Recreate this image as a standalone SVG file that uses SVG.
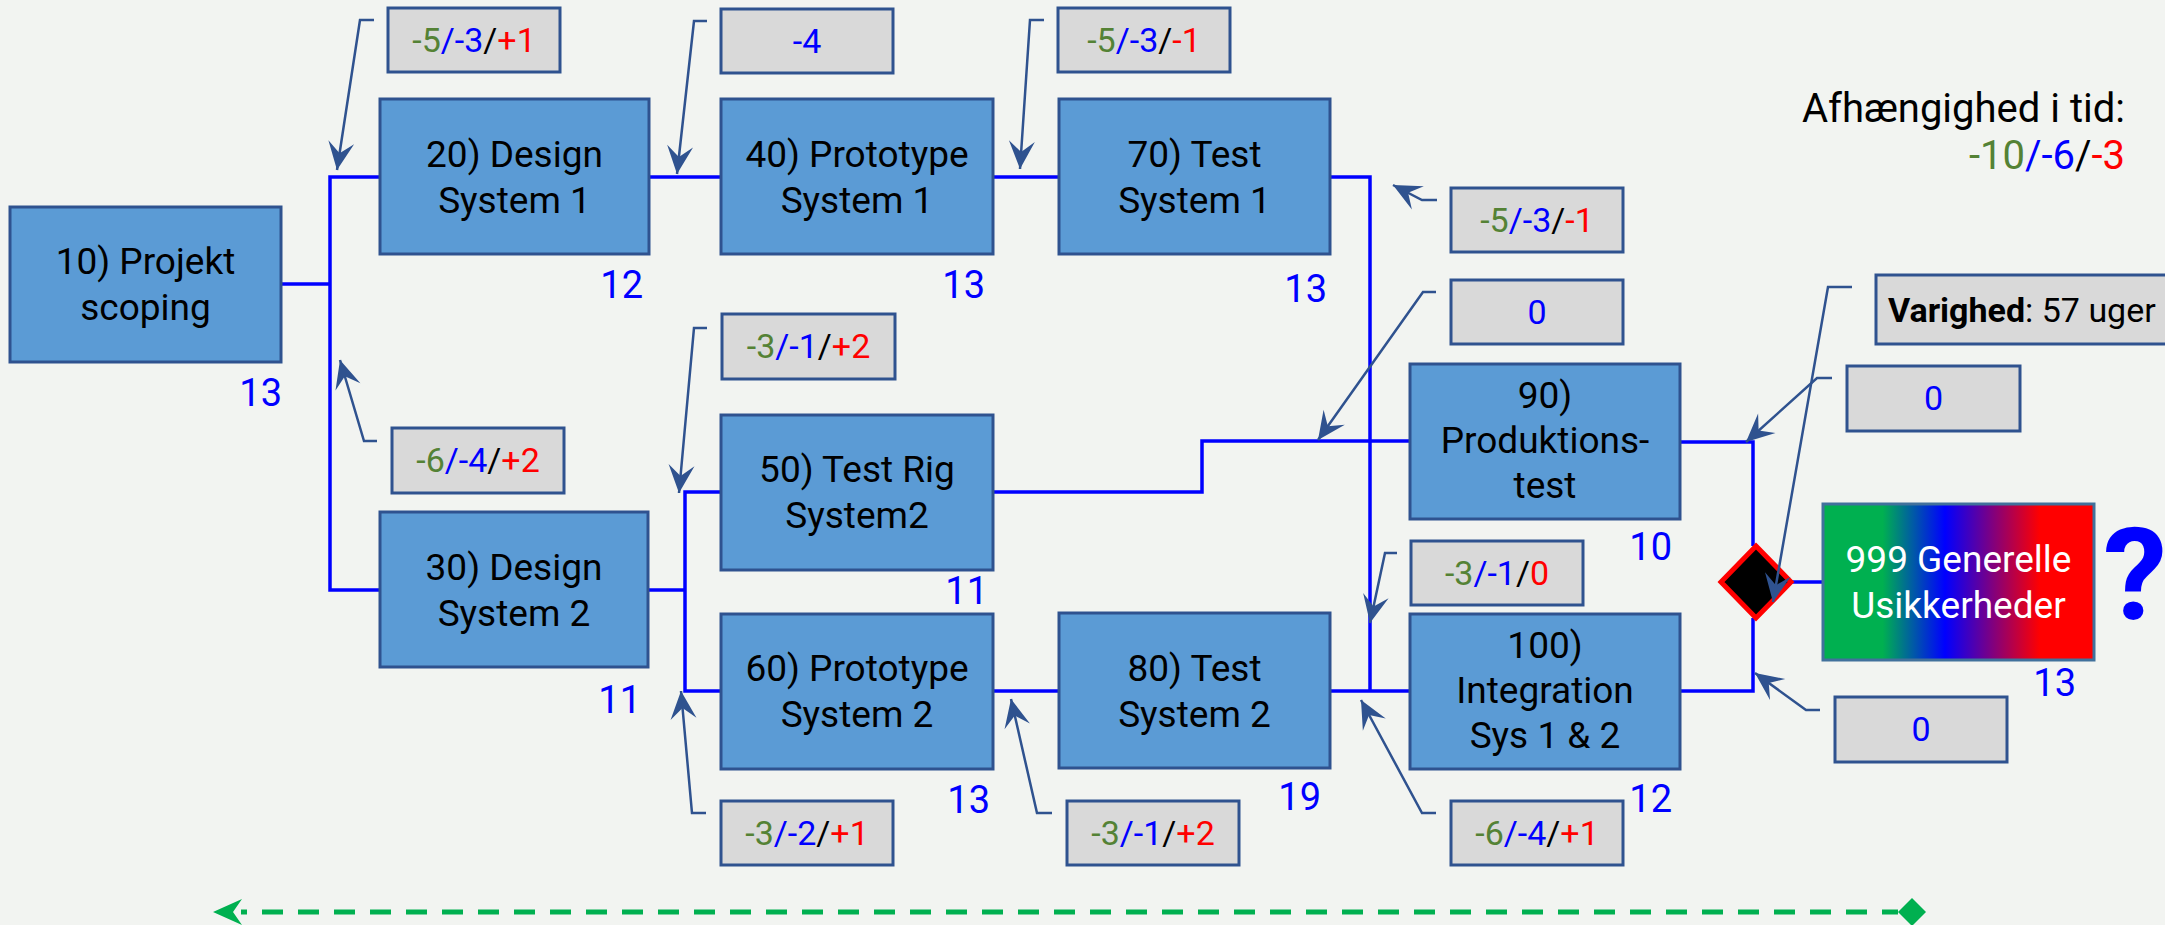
<svg xmlns="http://www.w3.org/2000/svg" width="2165" height="925" viewBox="0 0 2165 925">
<style>
text{font-family:Roboto,"Liberation Sans",sans-serif}
.node{fill:#5B9BD5;stroke:#2F528F;stroke-width:3}
.nt{font-size:37px;fill:#000;text-anchor:middle}
.num{font-size:38px;fill:#0000FF;text-anchor:end}
.cb{fill:#D9D9D9;stroke:#2F528F;stroke-width:3}
.ct{font-size:34px;text-anchor:middle}
.g{fill:#548235}.b{fill:#0000FF}.k{fill:#000}.r{fill:#FF0000}
.conn{fill:none;stroke:#0000FF;stroke-width:3.5}
.lead{fill:none;stroke:#2F528F;stroke-width:2.5;marker-end:url(#stealth)}
</style>
<defs>
<marker id="stealth" markerUnits="userSpaceOnUse" viewBox="-30 -15 32 30" markerWidth="32" markerHeight="30" refX="0" refY="0" orient="auto">
<path d="M0,0 L-28,-13 L-17,0 L-28,13 Z" fill="#2F528F"/>
</marker>
<linearGradient id="grad" x1="0" y1="0" x2="1" y2="0">
<stop offset="0" stop-color="#00B050"/>
<stop offset="0.22" stop-color="#00B050"/>
<stop offset="0.45" stop-color="#0000FF"/>
<stop offset="0.8" stop-color="#FF0000"/>
<stop offset="1" stop-color="#FF0000"/>
</linearGradient>
</defs>
<rect width="2165" height="925" fill="#F2F4F1"/>

<g id="connectors">
<path class="conn" d="M282,284 H330"/>
<path class="conn" d="M380,177 H330 V590 H380"/>
<path class="conn" d="M649,177 H721"/>
<path class="conn" d="M993,177 H1059"/>
<path class="conn" d="M1330,177 H1370 V691"/>
<path class="conn" d="M1330,691 H1410"/>
<path class="conn" d="M648,590 H685"/>
<path class="conn" d="M721,492 H685 V691 H721"/>
<path class="conn" d="M993,691 H1059"/>
<path class="conn" d="M993,492 H1202 V441 H1410"/>
<path class="conn" d="M1680,442 H1753 V546"/>
<path class="conn" d="M1680,691 H1753 V618"/>
<path class="conn" d="M1791,582 H1823"/>
</g>

<g id="n10"><rect class="node" x="10" y="207" width="271" height="155"/>
<text class="nt" x="145.5" y="274">10) Projekt</text><text class="nt" x="145.5" y="320">scoping</text>
<text class="num" x="282" y="406">13</text></g>
<g id="n20"><rect class="node" x="380" y="99" width="269" height="155"/>
<text class="nt" x="514.5" y="167">20) Design</text><text class="nt" x="514.5" y="213">System 1</text>
<text class="num" x="643" y="298">12</text></g>
<g id="n40"><rect class="node" x="721" y="99" width="272" height="155"/>
<text class="nt" x="857" y="167">40) Prototype</text><text class="nt" x="857" y="213">System 1</text>
<text class="num" x="985" y="298">13</text></g>
<g id="n70"><rect class="node" x="1059" y="99" width="271" height="155"/>
<text class="nt" x="1194.5" y="167">70) Test</text><text class="nt" x="1194.5" y="213">System 1</text>
<text class="num" x="1327" y="302">13</text></g>
<g id="n30"><rect class="node" x="380" y="512" width="268" height="155"/>
<text class="nt" x="514" y="580">30) Design</text><text class="nt" x="514" y="626">System 2</text>
<text class="num" x="641" y="713">11</text></g>
<g id="n50"><rect class="node" x="721" y="415" width="272" height="155"/>
<text class="nt" x="857" y="482">50) Test Rig</text><text class="nt" x="857" y="528">System2</text>
<text class="num" x="988" y="604">11</text></g>
<g id="n60"><rect class="node" x="721" y="614" width="272" height="155"/>
<text class="nt" x="857" y="681">60) Prototype</text><text class="nt" x="857" y="727">System 2</text>
<text class="num" x="990" y="813">13</text></g>
<g id="n80"><rect class="node" x="1059" y="613" width="271" height="155"/>
<text class="nt" x="1194.5" y="681">80) Test</text><text class="nt" x="1194.5" y="727">System 2</text>
<text class="num" x="1321" y="810">19</text></g>
<g id="n90"><rect class="node" x="1410" y="364" width="270" height="155"/>
<text class="nt" x="1545" y="408">90)</text><text class="nt" x="1545" y="453">Produktions-</text><text class="nt" x="1545" y="498">test</text>
<text class="num" x="1672" y="560">10</text></g>
<g id="n100"><rect class="node" x="1410" y="614" width="270" height="155"/>
<text class="nt" x="1545" y="658">100)</text><text class="nt" x="1545" y="703">Integration</text><text class="nt" x="1545" y="748">Sys 1 &amp; 2</text>
<text class="num" x="1672" y="812">12</text></g>
<g id="n999"><rect x="1823" y="504" width="271" height="156" fill="url(#grad)" stroke="#41719C" stroke-width="3"/>
<text class="nt" x="1958.5" y="572" style="fill:#FFFFFF">999 Generelle</text><text class="nt" x="1958.5" y="618" style="fill:#FFFFFF">Usikkerheder</text>
<text class="num" x="2076" y="696">13</text></g>
<g id="decision"><polygon points="1756,546 1791,582 1756,618 1721,582" fill="#000" stroke="#FF0000" stroke-width="5"/></g>
<g id="question"><text x="2135" y="619" font-size="128" font-weight="bold" fill="#0000FF" text-anchor="middle">?</text></g>

<g id="legend">
<text x="2125" y="122" font-size="40" text-anchor="end" fill="#000">Afhængighed i tid:</text>
<text x="2125" y="169" font-size="40" text-anchor="end"><tspan class="g">-10</tspan><tspan class="b">/-6</tspan><tspan class="k">/</tspan><tspan class="r">-3</tspan></text>
</g>

<g id="callouts">
<g id="c1"><rect class="cb" x="388" y="8" width="172" height="64"/><text class="ct" x="474" y="52"><tspan class="g">-5</tspan><tspan class="b">/-3</tspan><tspan class="k">/</tspan><tspan class="r">+1</tspan></text><polyline class="lead" points="374,20 360,20 337,170"/></g>
<g id="c2"><rect class="cb" x="721" y="9" width="172" height="64"/><text class="ct b" x="807" y="53">-4</text><polyline class="lead" points="707,21 694,21 677,174"/></g>
<g id="c3"><rect class="cb" x="1058" y="8" width="172" height="64"/><text class="ct" x="1144" y="52"><tspan class="g">-5</tspan><tspan class="b">/-3</tspan><tspan class="k">/</tspan><tspan class="r">-1</tspan></text><polyline class="lead" points="1044,20 1030,20 1020,169"/></g>
<g id="c4"><rect class="cb" x="1451" y="188" width="172" height="64"/><text class="ct" x="1537" y="232"><tspan class="g">-5</tspan><tspan class="b">/-3</tspan><tspan class="k">/</tspan><tspan class="r">-1</tspan></text><polyline class="lead" points="1437,200 1422,200 1393,185"/></g>
<g id="c5"><rect class="cb" x="1451" y="280" width="172" height="64"/><text class="ct b" x="1537" y="324">0</text><polyline class="lead" points="1436,292 1423,292 1318,440"/></g>
<g id="c6"><rect class="cb" x="1876" y="275" width="300" height="69"/><text x="1888" y="322" font-size="34" fill="#000"><tspan font-weight="bold">Varighed</tspan>: 57 uger</text><polyline class="lead" points="1852,287 1828,287 1773,602"/></g>
<g id="c7"><rect class="cb" x="1847" y="366" width="173" height="65"/><text class="ct b" x="1933.5" y="410">0</text><polyline class="lead" points="1832,378 1817,378 1746,442"/></g>
<g id="c8"><rect class="cb" x="1835" y="697" width="172" height="65"/><text class="ct b" x="1921" y="741">0</text><polyline class="lead" points="1820,710 1806,710 1755,673"/></g>
<g id="c9"><rect class="cb" x="1411" y="541" width="172" height="64"/><text class="ct" x="1497" y="585"><tspan class="g">-3</tspan><tspan class="b">/-1</tspan><tspan class="k">/</tspan><tspan class="r">0</tspan></text><polyline class="lead" points="1397,553 1385,553 1370,623"/></g>
<g id="c10"><rect class="cb" x="1451" y="801" width="172" height="64"/><text class="ct" x="1537" y="845"><tspan class="g">-6</tspan><tspan class="b">/-4</tspan><tspan class="k">/</tspan><tspan class="r">+1</tspan></text><polyline class="lead" points="1436,813 1422,813 1361,700"/></g>
<g id="c11"><rect class="cb" x="1067" y="801" width="172" height="64"/><text class="ct" x="1153" y="845"><tspan class="g">-3</tspan><tspan class="b">/-1</tspan><tspan class="k">/</tspan><tspan class="r">+2</tspan></text><polyline class="lead" points="1052,813 1037,813 1011,699"/></g>
<g id="c12"><rect class="cb" x="721" y="801" width="172" height="64"/><text class="ct" x="807" y="845"><tspan class="g">-3</tspan><tspan class="b">/-2</tspan><tspan class="k">/</tspan><tspan class="r">+1</tspan></text><polyline class="lead" points="706,813 692,813 681,691"/></g>
<g id="c13"><rect class="cb" x="392" y="428" width="172" height="65"/><text class="ct" x="478" y="472"><tspan class="g">-6</tspan><tspan class="b">/-4</tspan><tspan class="k">/</tspan><tspan class="r">+2</tspan></text><polyline class="lead" points="377,441 364,441 340,360"/></g>
<g id="c14"><rect class="cb" x="722" y="314" width="173" height="65"/><text class="ct" x="808.5" y="358"><tspan class="g">-3</tspan><tspan class="b">/-1</tspan><tspan class="k">/</tspan><tspan class="r">+2</tspan></text><polyline class="lead" points="707,328 694,328 679,493"/></g>
</g>

<g id="timeline">
<line x1="1898" y1="912" x2="241" y2="912" stroke="#00B050" stroke-width="5" stroke-dasharray="21 15" stroke-dashoffset="5"/>
<polygon points="213,912 242,899 233,912 242,925" fill="#00B050"/>
<polygon points="1898,912 1912,898 1926,912 1912,926" fill="#00B050"/>
</g>
</svg>
